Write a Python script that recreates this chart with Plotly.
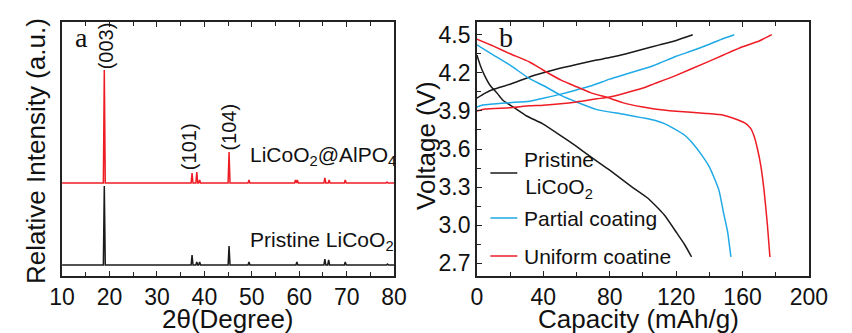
import plotly.graph_objects as go

W, H = 852, 333

# ---------------- Panel a: XRD data ----------------
xrd_peaks_coated = [18.9, 37.4, 38.4, 39.0, 45.2, 49.4, 59.2, 59.6, 65.4, 66.3, 69.7, 78.5]
xrd_int_coated = [113, 10, 11, 3, 31, 3, 3, 3, 5, 3, 3, 1]
xrd_peaks_pristine = [18.9, 37.4, 38.4, 39.0, 45.2, 49.4, 59.5, 65.4, 66.2, 69.7, 78.6]
xrd_int_pristine = [79, 10, 3, 3, 19, 3, 3, 6, 5, 3, 1]
two_theta_range = [10, 80]

# ---------------- Panel b: charge/discharge data ----------------
pri_chg_cap = [0, 5, 10, 20, 31.7, 40, 50, 60, 72, 80, 90, 100, 110, 120, 130]
pri_chg_v = [4.0, 4.04, 4.07, 4.11, 4.167, 4.20, 4.235, 4.265, 4.30, 4.32, 4.35, 4.385, 4.42, 4.455, 4.5]
pri_dis_cap = [0, 2, 4.6, 8, 12.4, 16, 22, 30, 39.4, 50, 60, 68.4, 80, 93.5, 103.2, 112.9, 120.6, 125, 129.3]
pri_dis_v = [4.34, 4.26, 4.18, 4.10, 4.036, 3.98, 3.93, 3.86, 3.80, 3.71, 3.62, 3.54, 3.433, 3.30, 3.21, 3.08, 2.935, 2.85, 2.75]

par_chg_cap = [0, 3, 10, 20, 31.7, 40, 50, 60, 68.4, 80, 90, 100, 107, 120, 130, 140, 148.5, 155]
par_chg_v = [3.93, 3.945, 3.955, 3.965, 3.976, 4.0, 4.03, 4.065, 4.096, 4.15, 4.19, 4.23, 4.26, 4.33, 4.375, 4.425, 4.47, 4.5]
par_dis_cap = [0, 10, 20, 31.7, 40, 51, 60, 72.3, 87.7, 100, 107, 113, 118.7, 125, 130.3, 135, 140, 145.7, 148.6, 151, 153]
par_dis_v = [4.42, 4.34, 4.26, 4.154, 4.10, 4.02, 3.97, 3.91, 3.875, 3.845, 3.826, 3.80, 3.76, 3.71, 3.64, 3.56, 3.46, 3.28, 3.095, 2.95, 2.75]

uni_chg_cap = [0, 5, 20, 31.7, 40, 60, 72.3, 80, 100, 107, 120, 138, 148.5, 160, 170, 177.6]
uni_chg_v = [3.90, 3.915, 3.925, 3.94, 3.945, 3.97, 3.995, 4.01, 4.08, 4.115, 4.18, 4.28, 4.34, 4.405, 4.45, 4.5]
uni_dis_cap = [0, 10, 20, 31.7, 40, 51, 60, 68.4, 80, 87.7, 100, 107, 120, 138, 148.5, 157, 162, 165, 167, 169, 171, 173, 175, 176.5]
uni_dis_v = [4.465, 4.41, 4.35, 4.285, 4.22, 4.14, 4.09, 4.044, 4.0, 3.965, 3.93, 3.915, 3.897, 3.88, 3.866, 3.83, 3.80, 3.76, 3.70, 3.60, 3.47, 3.27, 3.00, 2.75]

RED = "#ee1c25"
BLUE = "#1fa9e6"
BLACK = "#1a1a1a"
FONT = "Arial, Liberation Sans, sans-serif"
SERIF = "Times New Roman, Liberation Serif, serif"

HALF_W = 0.2  # half width of diffraction peaks (deg)
OFFSET_COATED = 93
OFFSET_PRISTINE = 11


def stick_pattern(peaks, ints, offset):
    xs, ys = [two_theta_range[0]], [offset]
    for p, h in zip(peaks, ints):
        xs += [p - HALF_W, p, p + HALF_W]
        ys += [offset, offset + h, offset]
    xs.append(two_theta_range[1])
    ys.append(offset)
    return xs, ys


fig = go.Figure()

xc, yc = stick_pattern(xrd_peaks_coated, xrd_int_coated, OFFSET_COATED)
xp, yp = stick_pattern(xrd_peaks_pristine, xrd_int_pristine, OFFSET_PRISTINE)
fig.add_trace(go.Scatter(x=xc, y=yc, mode="lines", line=dict(color=RED, width=1.5),
                         xaxis="x", yaxis="y", showlegend=False))
fig.add_trace(go.Scatter(x=xp, y=yp, mode="lines", line=dict(color=BLACK, width=1.5),
                         xaxis="x", yaxis="y", showlegend=False))

for cap, v, col in [(pri_chg_cap, pri_chg_v, BLACK), (pri_dis_cap, pri_dis_v, BLACK),
                    (par_chg_cap, par_chg_v, BLUE), (par_dis_cap, par_dis_v, BLUE),
                    (uni_chg_cap, uni_chg_v, RED), (uni_dis_cap, uni_dis_v, RED)]:
    fig.add_trace(go.Scatter(x=cap, y=v, mode="lines", line=dict(color=col, width=1.5, shape="spline", smoothing=0.5),
                             xaxis="x2", yaxis="y2", showlegend=False))


def px(x):
    return x / W


def py(y):
    return 1 - y / H


ydom = [py(276), py(22)]
axis_common = dict(showline=True, linecolor="#222", linewidth=1.5, showgrid=False, zeroline=False,
                   tickfont=dict(family=FONT, size=23, color="#111"), ticks="inside",
                   tickcolor="#222", ticklen=5, tickwidth=1.2)

fig.update_layout(
    width=W, height=H, autosize=False, margin=dict(l=0, r=0, t=0, b=0, pad=0),
    paper_bgcolor="white", plot_bgcolor="white",
    xaxis=dict(domain=[px(51), px(396)], range=two_theta_range, dtick=10, tick0=10,
               mirror="allticks", anchor="y",
               minor=dict(dtick=5, ticks="inside", ticklen=4, tickcolor="#222"),
               **axis_common),
    yaxis=dict(domain=ydom, range=[0, 254], showline=True, linecolor="#222", linewidth=1.5,
               mirror=True, showticklabels=False, ticks="", showgrid=False, zeroline=False, anchor="x"),
    xaxis2=dict(domain=[px(482), px(827)], range=[0, 200], dtick=40, tick0=0,
                mirror="allticks", anchor="y2",
                minor=dict(dtick=20, ticks="inside", ticklen=4, tickcolor="#222"),
                **axis_common),
    yaxis2=dict(domain=ydom, range=[2.6, 4.6], dtick=0.3, tick0=2.7, tickformat=".1f",
                mirror=True, anchor="x2",
                minor=dict(dtick=0.15, tick0=2.7, ticks="inside", ticklen=4, tickcolor="#222"),
                **axis_common),
)

ann = []


def text(x, y, s, size=21, family=FONT, xanchor="center", yanchor="middle", angle=0):
    ann.append(dict(x=px(x), y=py(y), xref="paper", yref="paper", text=s, showarrow=False,
                    xanchor=xanchor, yanchor=yanchor, textangle=angle,
                    font=dict(family=family, size=size, color="#111")))


# panel a texts
text(71, 38, "a", size=28, family=SERIF)
text(97, 46, "(003)", size=20, angle=-90)
text(183, 147, "(101)", size=20, angle=-90)
text(224, 127, "(104)", size=20, angle=-90)
text(244, 156, "LiCoO<sub>2</sub>@AlPO<sub>4</sub>", xanchor="left")
text(244, 241, "Pristine LiCoO<sub>2</sub>", xanchor="left")
text(24, 151, "Relative Intensity (a.u.)", size=26, angle=-90)
text(223, 319, "2θ(Degree)", size=26)

# panel b texts
text(512, 38, "b", size=28, family=SERIF)
text(429, 145, "Voltage (V)", size=26, angle=-90)
text(650, 319, "Capacity (mAh/g)", size=26)

# legend for panel b
legend_items = [("Pristine<br>LiCoO<sub>2</sub>", BLACK, 173, 175),
                ("Partial coating", BLUE, 218, 218),
                ("Uniform coatine", RED, 256, 256)]
shapes = []
for label, col, ly, ty in legend_items:
    shapes.append(dict(type="line", xref="paper", yref="paper", x0=px(496), x1=px(524),
                       y0=py(ly), y1=py(ly), line=dict(color=col, width=1.5)))
    text(529, ty, label, xanchor="left")

fig.update_layout(annotations=ann, shapes=shapes)

fig.write_html("out.html",
               config={"responsive": False, "displayModeBar": False},
               post_script="document.body.style.margin='0';document.body.style.overflow='hidden';")
